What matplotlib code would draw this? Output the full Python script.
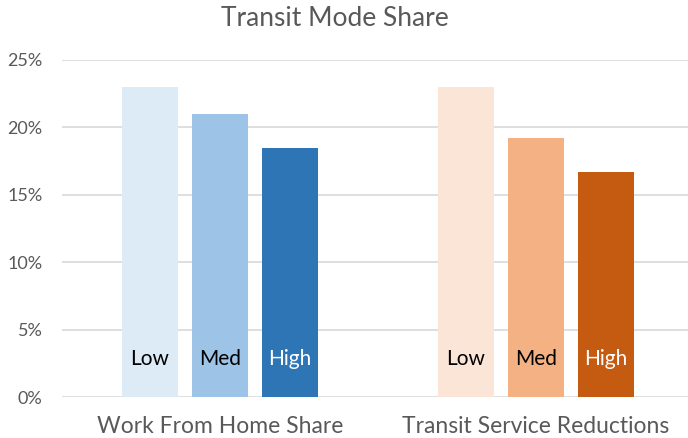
import numpy as np
import matplotlib
matplotlib.use("Agg")
import matplotlib.pyplot as plt
from matplotlib.ticker import PercentFormatter

plt.rcParams['font.family'] = ['Lato', 'DejaVu Sans']

# data
groups = ['Work From Home Share', 'Transit Service Reductions']
levels = ['Low', 'Med', 'High']
wfh = [0.230, 0.210, 0.185]
tsr = [0.230, 0.192, 0.167]
blues = ['#DDEBF7', '#9DC3E6', '#2E75B6']
oranges = ['#FBE5D6', '#F4B183', '#C55A11']
text_cols = ['black', 'black', 'white']

fig = plt.figure(figsize=(6.88, 4.38), dpi=100)
ax = fig.add_axes([62/688, 41/438, 626/688, 337/438])

x = np.arange(len(groups))
pitch = 70/316
width = 56/316
for i, lev in enumerate(levels):
    off = (i - 1) * pitch
    vals = [wfh[i], tsr[i]]
    cols = [blues[i], oranges[i]]
    ax.bar(x + off, vals, width=width, color=cols, zorder=2)
    for xi in x:
        ax.text(xi + off, 0.028, lev, ha='center', va='center',
                fontsize=15, color=text_cols[i], zorder=3)

ax.set_xlim(-0.5, 1.481)
ax.set_ylim(0, 0.25)
ax.set_yticks(np.arange(0, 0.26, 0.05))
ax.yaxis.set_major_formatter(PercentFormatter(1.0, decimals=0))
ax.grid(axis='y', color='#D9D9D9', linewidth=1.2, zorder=0)
ax.set_xticks(x)
ax.set_xticklabels(groups, fontsize=16.5, color='#595959')
ax.tick_params(axis='x', length=0, pad=14)
ax.tick_params(axis='y', length=0, labelsize=13, labelcolor='#595959', pad=14)
for s in ax.spines.values():
    s.set_visible(False)

fig.text(335/688, 1 - 19/438, 'Transit Mode Share', ha='center', va='center',
         fontsize=19, color='#595959')

fig.savefig('out.png', dpi=100)
